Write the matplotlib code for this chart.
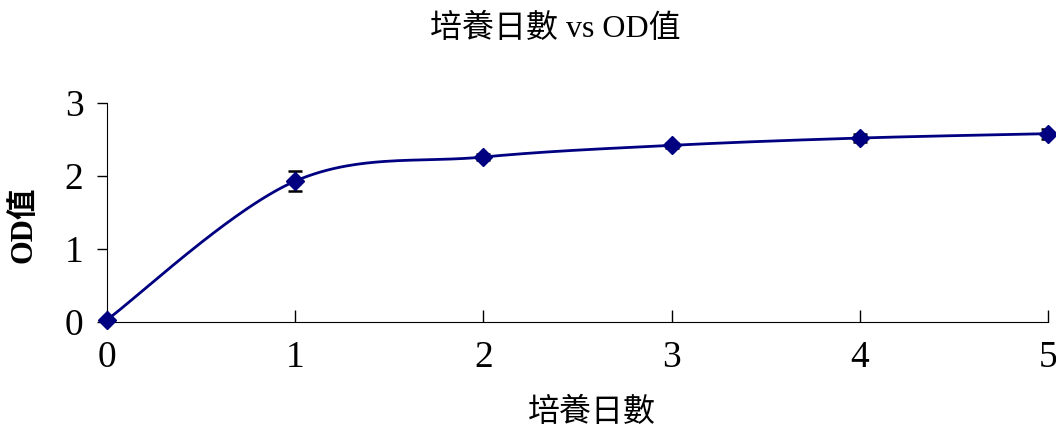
import numpy as np
import matplotlib
matplotlib.use("Agg")
from matplotlib import pyplot as plt

plt.rcParams['font.family'] = ['Liberation Serif', 'Noto Sans CJK TC', 'DejaVu Sans']

days = [0, 1, 2, 3, 4, 5]
od = [0.03, 1.93, 2.26, 2.42, 2.52, 2.58]
od_err = [0.0, 0.14, 0.04, 0.03, 0.06, 0.07]

title = "培養日數 vs OD值"
xtitle = "培養日數"
ytitle = "OD值"


def smooth(xs, ys, n=60):
    # excel-like smoothed line: bezier segments with catmull-rom control points
    px = np.array(xs, float)
    py = np.array(ys, float)
    px = np.concatenate([[px[0]], px, [px[-1]]])
    py = np.concatenate([[py[0]], py, [py[-1]]])
    outx, outy = [], []
    t = np.linspace(0, 1, n)
    for i in range(1, len(px) - 2):
        p0 = np.array([px[i], py[i]])
        p3 = np.array([px[i + 1], py[i + 1]])
        p1 = p0 + (np.array([px[i + 1], py[i + 1]]) - np.array([px[i - 1], py[i - 1]])) / 6
        p2 = p3 - (np.array([px[i + 2], py[i + 2]]) - np.array([px[i], py[i]])) / 6
        b = ((1 - t) ** 3)[:, None] * p0 + (3 * (1 - t) ** 2 * t)[:, None] * p1 \
            + (3 * (1 - t) * t ** 2)[:, None] * p2 + (t ** 3)[:, None] * p3
        outx.extend(b[:, 0])
        outy.extend(b[:, 1])
    return outx, outy


fig = plt.figure(figsize=(10.56, 4.28), dpi=100)
ax = fig.add_axes([107 / 1056, 1 - 322 / 428, (1048 - 107) / 1056, (322 - 103) / 428])

sx, sy = smooth(days, od)
ax.plot(sx, sy, color='#000080', lw=2, zorder=2)
ax.errorbar(days, od, yerr=od_err, fmt='none', ecolor='black', elinewidth=1.8,
            capsize=5, capthick=1.8, zorder=3)
ax.plot(days, od, linestyle='none', marker='D', ms=9, color='#000080', zorder=4, clip_on=False)

ax.set_xlim(0, 5)
ax.set_ylim(0, 3)
ax.set_xticks(days)
ax.set_yticks([0, 1, 2, 3])
ax.spines['top'].set_visible(False)
ax.spines['right'].set_visible(False)
ax.tick_params(axis='x', direction='in', length=9, width=1, pad=13, labelsize=27)
ax.tick_params(axis='y', direction='out', length=7, width=1, pad=10, labelsize=27)

fig.text(555 / 1056, 1 - 29 / 428, title, ha='center', va='center', fontsize=23)
fig.text(592 / 1056, 1 - 413 / 428, xtitle, ha='center', va='center', fontsize=23)
fig.text(24 / 1056, 1 - 225 / 428, ytitle, ha='center', va='center', fontsize=22,
         rotation=90, fontweight='bold')

fig.savefig("out.png", dpi=100)
